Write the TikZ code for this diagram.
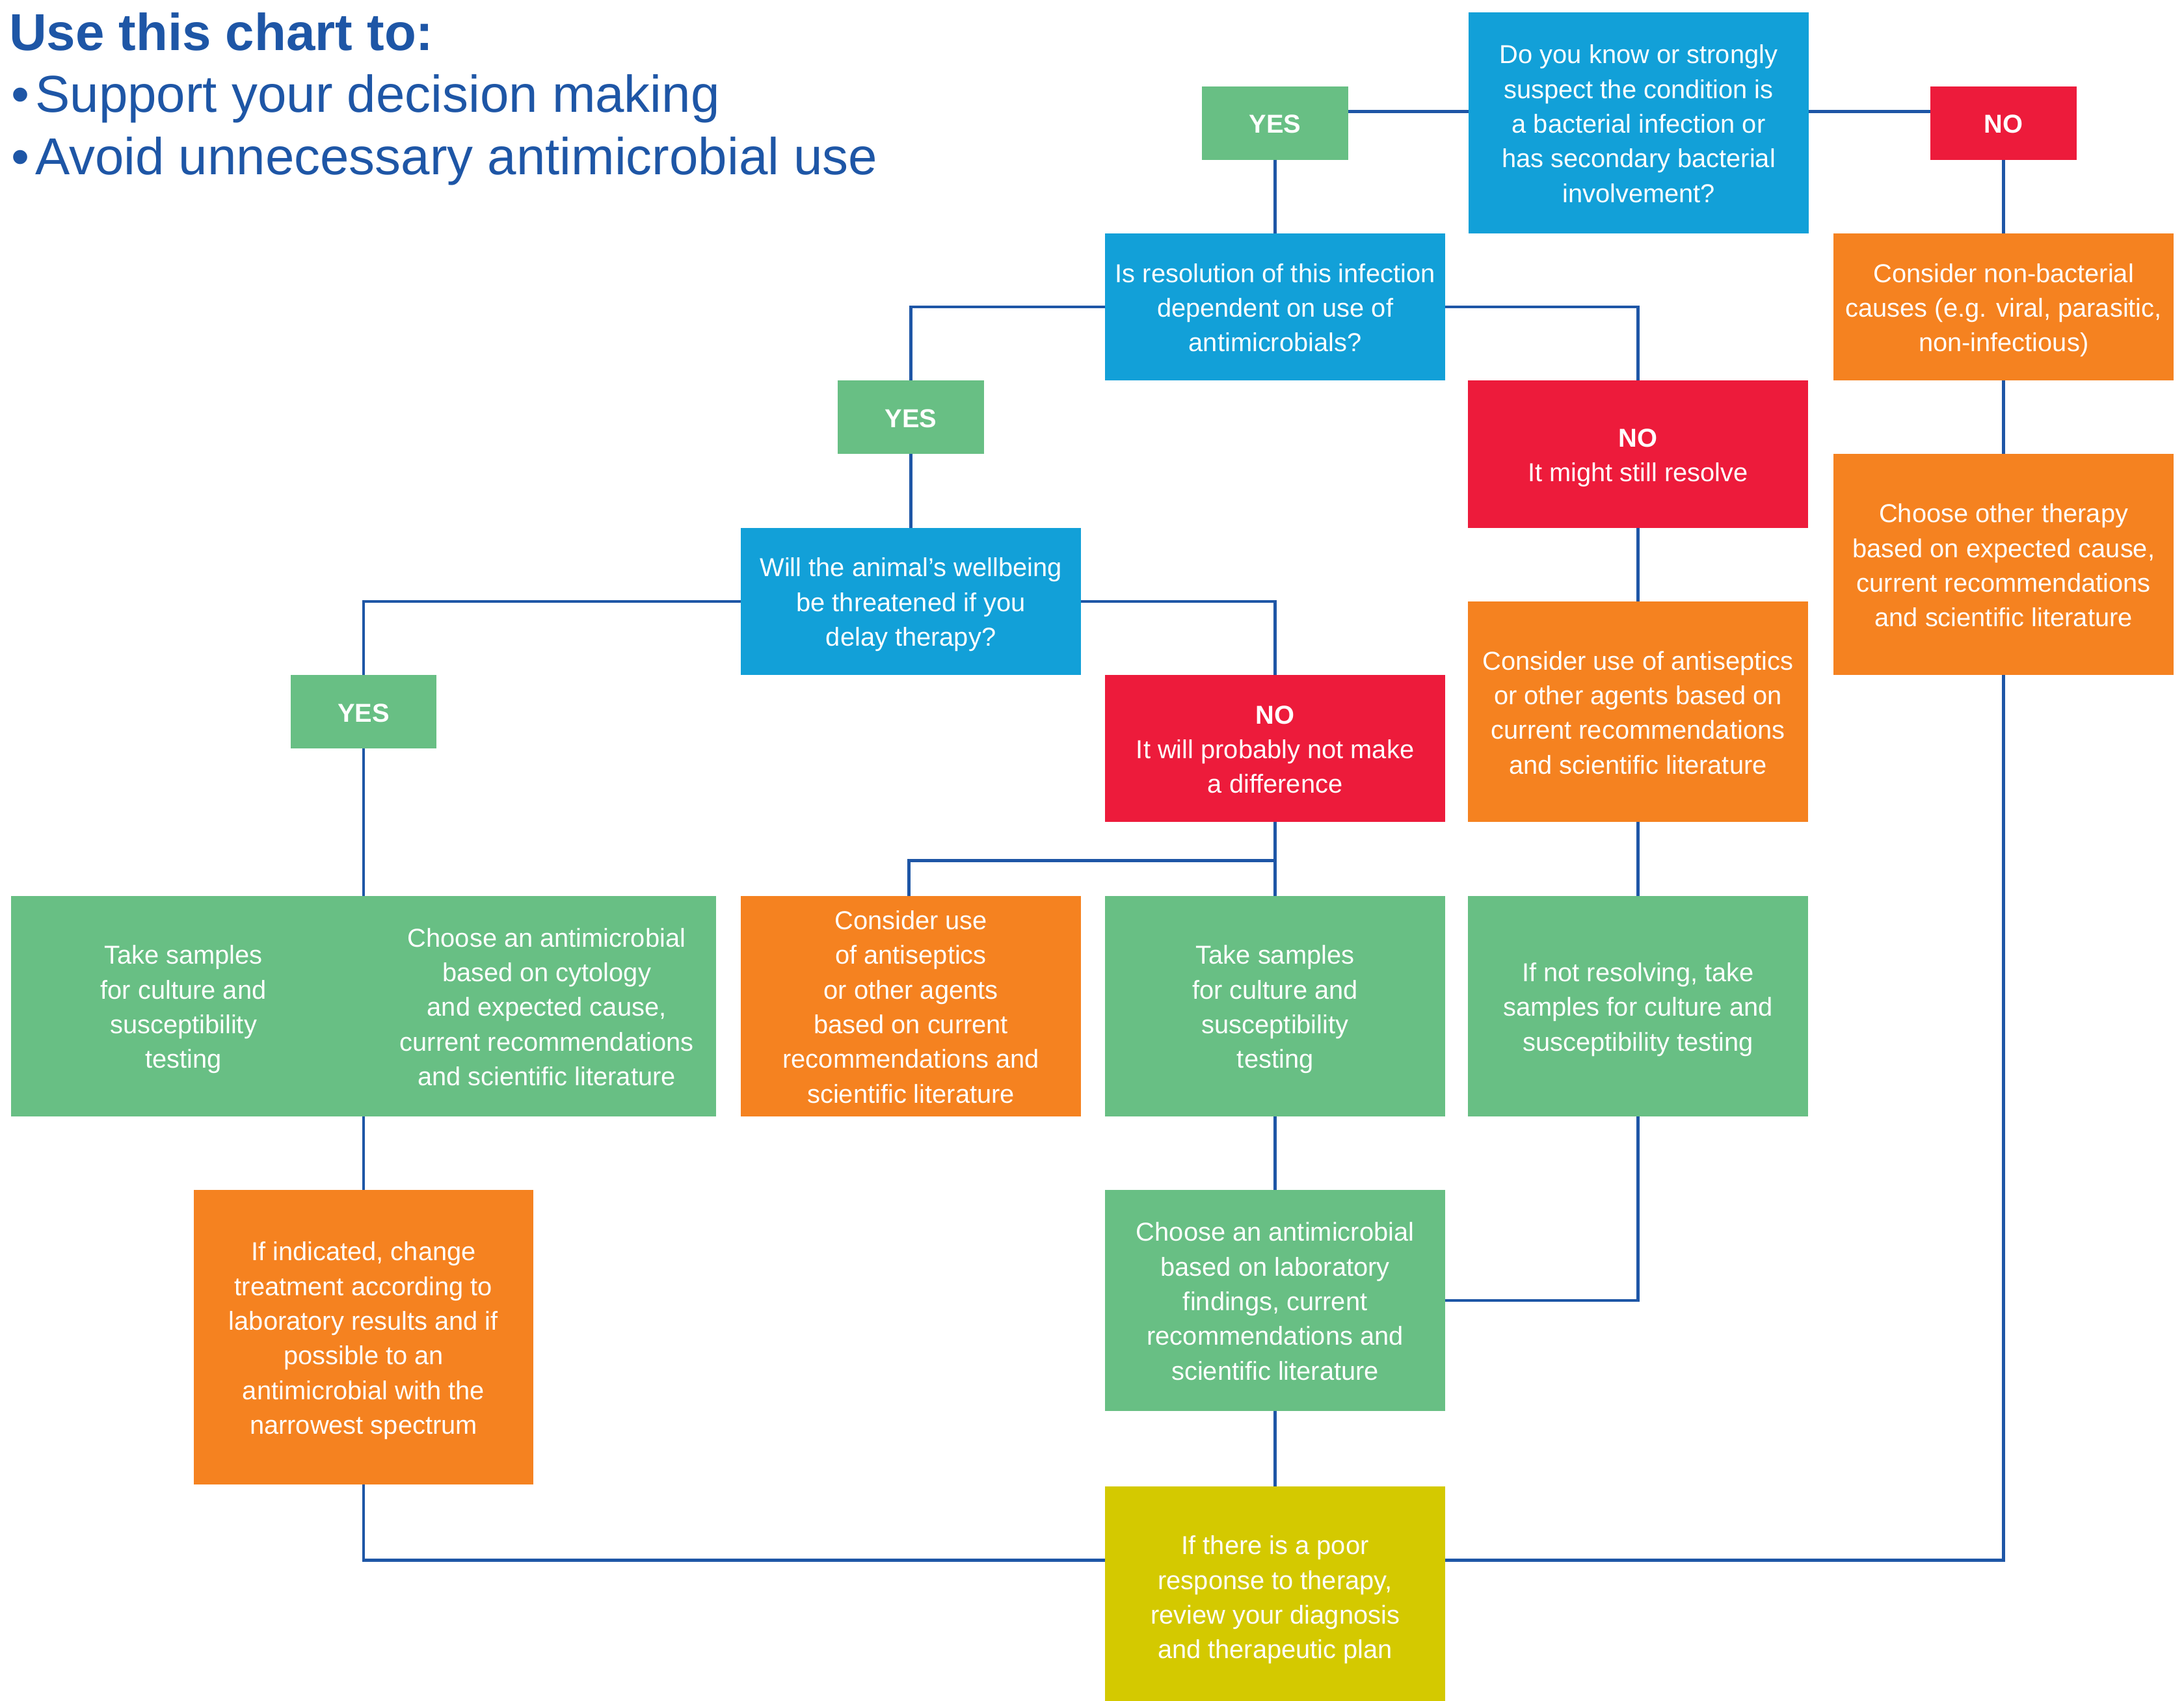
\documentclass[tikz,border=0pt]{standalone}
\usepackage{fontspec}
\setmainfont{Liberation Sans}
\usetikzlibrary{backgrounds}
\definecolor{cblue}{RGB}{18,160,216}
\definecolor{cgreen}{RGB}{104,191,132}
\definecolor{cred}{RGB}{237,27,59}
\definecolor{corange}{RGB}{245,130,32}
\definecolor{cyellow}{RGB}{212,201,0}
\definecolor{lineblue}{RGB}{30,86,166}
\newcommand\mystrut{\rule[-5.2pt]{0pt}{24.9pt}}
\newcommand\bx[1]{\mystrut#1\mystrut}
\tikzset{
  boxn/.style={rectangle, inner sep=0pt, outer sep=0pt, draw=none, text=white, align=center,
    font=\fontsize{18.6}{24.9}\selectfont},
  wide/.style={boxn, minimum width=244pt},
  small/.style={boxn, minimum width=105pt, minimum height=52.85pt, font=\fontsize{18.6}{24.9}\selectfont\bfseries},
  hb/.style={minimum height=105.7pt},
  hc/.style={minimum height=158.55pt},
  hd/.style={minimum height=211.4pt},
  conn/.style={draw=lineblue, line width=2.1pt, line join=miter},
  title/.style={inner sep=0pt, outer sep=0pt, text=lineblue, anchor=base west, font=\fontsize{37.3}{45}\selectfont},
  plain/.style={inner sep=0pt, outer sep=0pt, text=white, align=center, font=\fontsize{18.6}{24.9}\selectfont}
}
\begin{document}
\begin{tikzpicture}[x=1pt, y=-1pt]
\useasboundingbox (0,0) rectangle (1568,1221.1);
% title
\node[title] (t1) at (6.6,36.1) {\bfseries Use this chart to:};
\node[title] (t2) at (8,80.6) {\makebox[17.4pt][l]{•}Support your decision making};
\node[title] (t3) at (8,125.2) {\makebox[17.4pt][l]{•}Avoid unnecessary antimicrobial use};
% boxes
\node[wide, hc, fill=cblue] (q1) at (1176.5,88.3) {\bx{Do you know or strongly\\suspect the condition is\\a bacterial infection or\\has secondary bacterial\\involvement?}};
\node[small, fill=cgreen] (yes1) at (915.5,88.3) {\bx{YES}};
\node[small, fill=cred] (no1) at (1438.5,88.3) {\bx{NO}};
\node[wide, hb, fill=cblue] (q2) at (915.5,220.4) {\bx{Is resolution of this infection\\dependent on use of\\antimicrobials?}};
\node[wide, hb, fill=corange] (nonbact) at (1438.5,220.4) {\bx{Consider non-bacterial\\causes (e.g. viral, parasitic,\\non-infectious)}};
\node[small, fill=cgreen] (yes2) at (654,299.7) {\bx{YES}};
\node[wide, hb, fill=cred] (no2) at (1176,326.1) {\bx{\textbf{NO}\\It might still resolve}};
\node[wide, hc, fill=corange] (other) at (1438.5,405.4) {\bx{Choose other therapy\\based on expected cause,\\current recommendations\\and scientific literature}};
\node[wide, hb, fill=cblue] (q3) at (654,431.8) {\bx{Will the animal’s wellbeing\\be threatened if you\\delay therapy?}};
\node[wide, hc, fill=corange] (antiR) at (1176,511.1) {\bx{Consider use of antiseptics\\or other agents based on\\current recommendations\\and scientific literature}};
\node[small, fill=cgreen] (yes3) at (261,511.1) {\bx{YES}};
\node[wide, hb, fill=cred] (no3) at (915.5,537.5) {\bx{\textbf{NO}\\It will probably not make\\a difference}};
\node[boxn, minimum width=506pt, hc, fill=cgreen] (big) at (261,722.5) {};
\node[plain] (bigL) at (131.7,722.5) {\bx{Take samples\\for culture and\\susceptibility\\testing}};
\node[plain] (bigR) at (392.5,722.5) {\bx{Choose an antimicrobial\\based on cytology\\and expected cause,\\current recommendations\\and scientific literature}};
\node[wide, hc, fill=corange] (antiM) at (654,722.5) {\bx{Consider use\\of antiseptics\\or other agents\\based on current\\recommendations and\\scientific literature}};
\node[wide, hc, fill=cgreen] (takeM) at (915.5,722.5) {\bx{Take samples\\for culture and\\susceptibility\\testing}};
\node[wide, hc, fill=cgreen] (notres) at (1176,722.5) {\bx{If not resolving, take\\samples for culture and\\susceptibility testing}};
\node[wide, hd, fill=corange] (ifind) at (261,960.3) {\bx{If indicated, change\\treatment according to\\laboratory results and if\\possible to an\\antimicrobial with the\\narrowest spectrum}};
\node[wide, hc, fill=cgreen] (lab) at (915.5,933.9) {\bx{Choose an antimicrobial\\based on laboratory\\findings, current\\recommendations and\\scientific literature}};
\node[wide, hc, fill=cyellow] (poor) at (915.5,1146.5) {\bx{If there is a poor\\response to therapy,\\review your diagnosis\\and therapeutic plan}};
\coordinate (br) at (915.5,618);
% connectors
\begin{pgfonlayer}{background}
\draw[conn] ([yshift=8.3pt]yes1.east) -- ([yshift=8.3pt]q1.west);
\draw[conn] ([yshift=8.3pt]q1.east) -- ([yshift=8.3pt]no1.west);
\draw[conn] (yes1.south) -- (q2.north);
\draw[conn] (no1.south) -- (nonbact.north);
\draw[conn] (q2.west) -| (yes2.north);
\draw[conn] (q2.east) -| (no2.north);
\draw[conn] (yes2.south) -- (q3.north);
\draw[conn] (nonbact.south) -- (other.north);
\draw[conn] (no2.south) -- (antiR.north);
\draw[conn] (q3.west) -| (yes3.north);
\draw[conn] (q3.east) -| (no3.north);
\draw[conn] (yes3.south) -- (big.north);
\draw[conn] (no3.south) -- (takeM.north);
\draw[conn] (br) -| ([xshift=-1.5pt]antiM.north);
\draw[conn] (antiR.south) -- (notres.north);
\draw[conn] (big.south) -- (ifind.north);
\draw[conn] (takeM.south) -- (lab.north);
\draw[conn] (notres.south) |- (lab.east);
\draw[conn] (lab.south) -- (poor.north);
\draw[conn] (ifind.south) |- ([yshift=26pt]poor.west);
\draw[conn] (other.south) |- ([yshift=26pt]poor.east);
\end{pgfonlayer}
\end{tikzpicture}
\end{document}
